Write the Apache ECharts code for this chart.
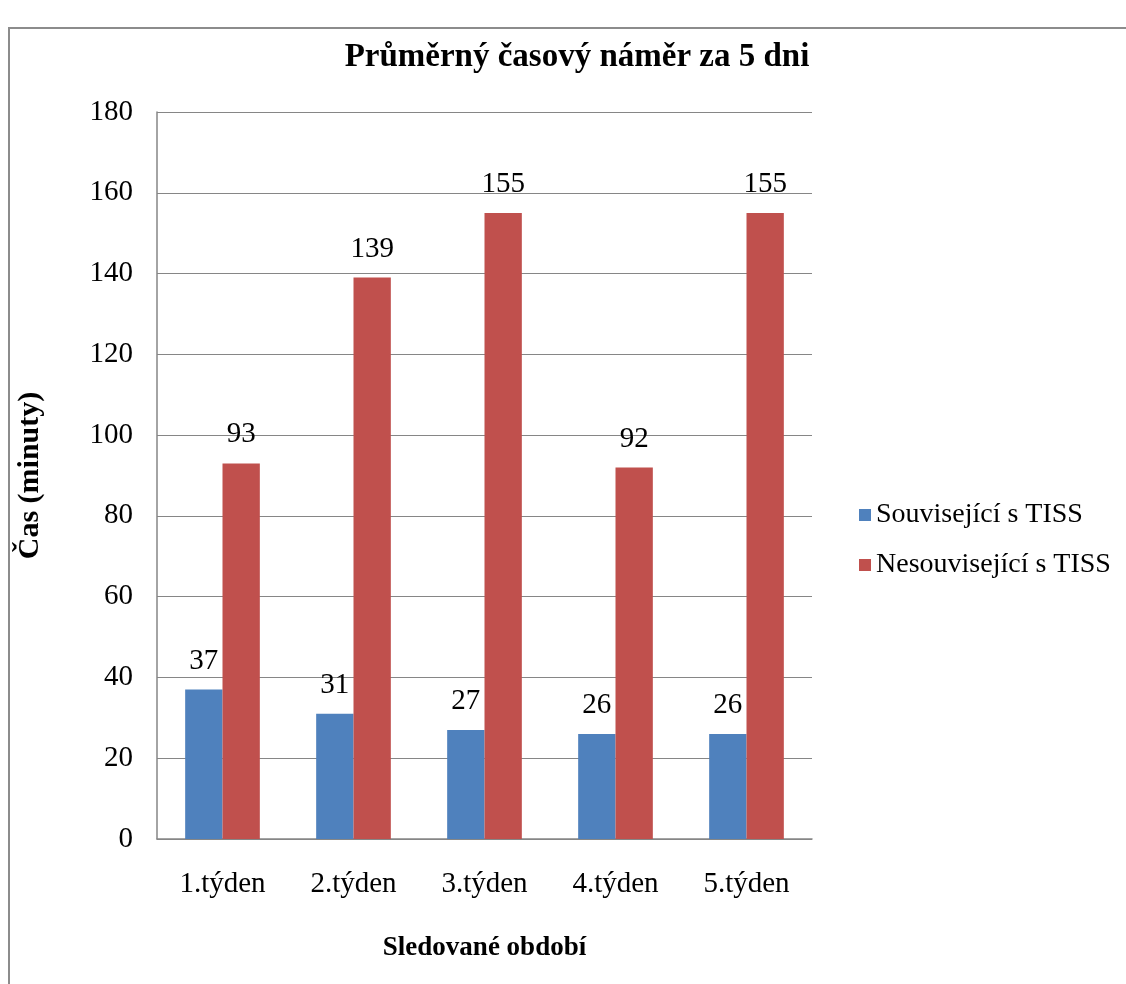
<!DOCTYPE html>
<html><head><meta charset="utf-8">
<script src="https://cdn.jsdelivr.net/npm/echarts@6/dist/echarts.min.js"></script>
<style>html,body{margin:0;padding:0;background:#fff}#c{width:1126px;height:984px}
#frame{position:absolute;left:8px;top:27px;width:1130px;height:970px;border:2px solid #8c8c8c;box-sizing:border-box;pointer-events:none}</style>
</head><body><div id="c"></div><div id="frame"></div>
<script>
const categories = ['1.týden','2.týden','3.týden','4.týden','5.týden'];
const related = [37,31,27,26,26];
const unrelated = [93,139,155,92,155];
const seriesNames = ['Související s TISS','Nesouvisející s TISS'];
const yTicks = {min:0,max:180,interval:20};
const F = '"Liberation Serif", "Times New Roman", serif';
const chart = echarts.init(document.getElementById('c'));
chart.setOption({
  animation:false,
  title:{text:'Průměrný časový náměr za 5 dni',left:572,textAlign:'center',top:36,
    textStyle:{fontFamily:F,fontWeight:'bold',fontSize:33,color:'#000'}},
  legend:{orient:'vertical',left:854,top:496,itemWidth:12,itemHeight:12,itemGap:22,icon:'rect',
    textStyle:{fontFamily:F,fontSize:28,color:'#000'}},
  grid:{left:157,right:314,top:112,bottom:145},
  xAxis:{type:'category',data:categories,name:'Sledované období',nameLocation:'middle',nameGap:96,
    nameTextStyle:{fontFamily:F,fontWeight:'bold',fontSize:27,color:'#000'},
    axisLine:{lineStyle:{color:'#868686',width:1.5}},axisTick:{show:false},
    axisLabel:{fontFamily:F,fontSize:29,color:'#000',margin:31}},
  yAxis:{type:'value',min:yTicks.min,max:yTicks.max,interval:yTicks.interval,
    name:'Čas (minuty)',nameLocation:'middle',nameGap:112,nameRotate:90,
    nameTextStyle:{fontFamily:F,fontWeight:'bold',fontSize:30,color:'#000'},
    axisLine:{show:true,lineStyle:{color:'#868686',width:1.5}},axisTick:{show:false},
    splitLine:{lineStyle:{color:'#868686',width:1.2}},
    axisLabel:{fontFamily:F,fontSize:29,color:'#000',margin:24}},
  series:[
    {name:seriesNames[0],type:'bar',data:related,barGap:'0%',barCategoryGap:'43%',
      itemStyle:{color:'#4F81BD'},
      label:{show:true,position:'top',distance:14,fontFamily:F,fontSize:29,color:'#000'}},
    {name:seriesNames[1],type:'bar',data:unrelated,barGap:'0%',barCategoryGap:'43%',
      itemStyle:{color:'#C0504D'},
      label:{show:true,position:'top',distance:14,fontFamily:F,fontSize:29,color:'#000'}}
  ]
});
</script></body></html>
